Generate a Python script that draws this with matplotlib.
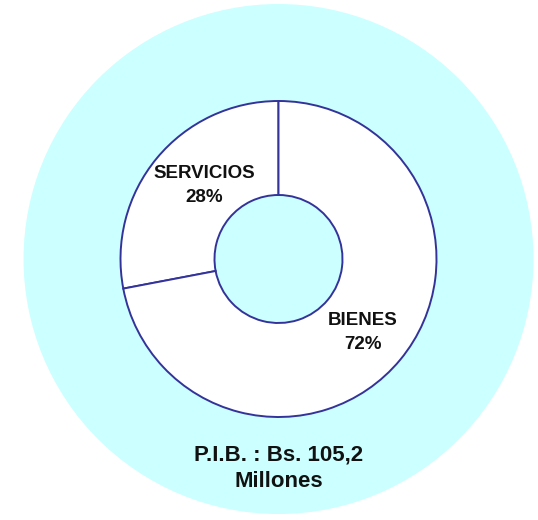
import numpy as np
import matplotlib
matplotlib.use("Agg")
import matplotlib.pyplot as plt
from matplotlib.patches import Circle

# Data
categories = ["SERVICIOS", "BIENES"]
shares = [28, 72]
caption = "P.I.B. : Bs. 105,2\nMillones"

W, H = 538, 520
fig = plt.figure(figsize=(W / 100, H / 100), dpi=100)
ax = fig.add_axes([0, 0, 1, 1])
ax.set_xlim(0, W)
ax.set_ylim(0, H)
ax.set_aspect("equal")
ax.axis("off")

cx, cy = 278.5, H - 259
edge = "#33339A"

# light cyan background disc
ax.add_patch(Circle((cx, cy), 255, facecolor="#CCFFFF", edgecolor="none", zorder=0))

r_out, r_in = 158, 64
wedges, _ = ax.pie(shares, startangle=90, counterclock=True, center=(cx, cy),
                   radius=r_out, colors=["white", "white"],
                   wedgeprops=dict(width=r_out - r_in, edgecolor=edge, linewidth=1.4))
ax.set_xlim(0, W)
ax.set_ylim(0, H)

font = ["Liberation Sans", "DejaVu Sans"]
label_r = 108
for w, cat, val in zip(wedges, categories, shares):
    mid = np.deg2rad((w.theta1 + w.theta2) / 2 - 3)
    x = cx + label_r * np.cos(mid) + 5
    y = cy + label_r * np.sin(mid)
    ax.text(x, y, f"{cat}\n{val}%", ha="center", va="center", fontsize=13.5,
            fontweight="bold", family=font, color="#111111", linespacing=1.55, zorder=5)

ax.text(cx, H - 468, caption, ha="center", va="center", fontsize=16,
        fontweight="bold", family=font, color="#111111", linespacing=1.35, zorder=5)

fig.savefig("out.png", dpi=100, facecolor="white")
